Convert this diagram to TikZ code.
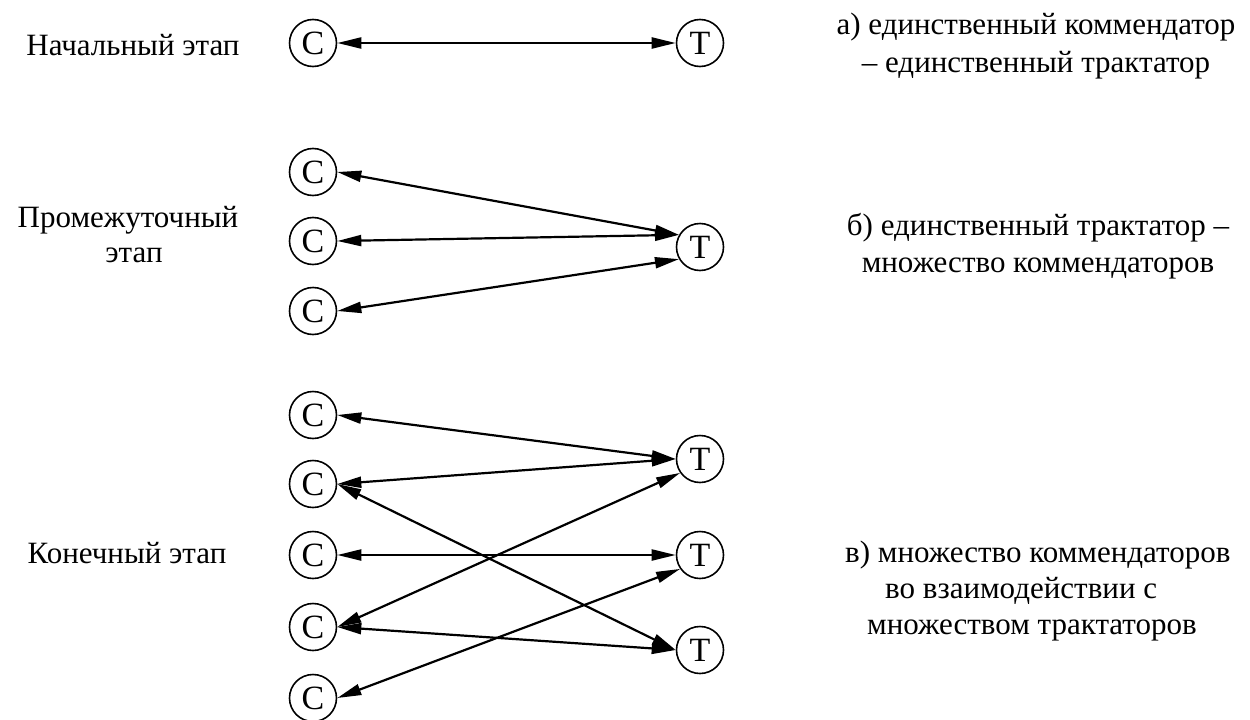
\documentclass[tikz,border=0pt]{standalone}
\usepackage{fontspec}
\setmainfont{Liberation Serif}
\usetikzlibrary{arrows.meta}
\begin{document}
\begin{tikzpicture}[x=1pt,y=-1pt,
  vert/.style={circle,draw,line width=1.6pt,minimum size=47pt,inner sep=0pt,font=\fontsize{34}{36}\selectfont},
  link/.style={{Triangle[length=24pt,width=11pt]}-{Triangle[length=24pt,width=11pt]},line width=2.2pt},
  lbl/.style={font=\fontsize{31}{36}\selectfont,inner sep=0pt}]
\useasboundingbox (0,0) rectangle (1250,720);
% top
\node[vert] (c0) at (313,43) {C};
\node[vert] (t0) at (700,43) {T};
\draw[link] (c0.east) -- (t0.west);
% middle
\node[vert] (m1) at (313,172) {C};
\node[vert] (m2) at (313,241) {C};
\node[vert] (m3) at (313,311) {C};
\node[vert] (mt) at (700,247) {T};
\draw[link] (m1.east) -- (mt.150);
\draw[link] (m2.east) -- (mt.150);
\draw[link] (m3.east) -- (mt.210);
% bottom
\node[vert] (b1) at (313,415) {C};
\node[vert] (b2) at (313,484) {C};
\node[vert] (b3) at (313,555) {C};
\node[vert] (b4) at (313,627) {C};
\node[vert] (b5) at (313,698) {C};
\node[vert] (u1) at (700,459) {T};
\node[vert] (u2) at (700,555) {T};
\node[vert] (u3) at (700,650) {T};
\draw[link] (b1.east) -- (u1.west);
\draw[link] (b2.east) -- (u1.west);
\draw[link] (b2.east) -- (u3.west);
\draw[link] (b3.east) -- (u2.west);
\draw[link] (b4.east) -- (u1.215);
\draw[link] (b4.east) -- (u3.west);
\draw[link] (b5.east) -- (u2.215);
% left labels
\node[lbl,anchor=base] (l1) at (133,55) {Начальный этап};
\node[lbl,anchor=base,align=center] (l2) at (128,262) {Промежуточный\\[-1pt]\hspace*{12pt}этап};
\node[lbl,anchor=base] (l3) at (127,563) {Конечный этап};
% right labels
\node[lbl,anchor=base,align=center] (r1) at (1036,72) {а) единственный коммендатор\\[2pt]– единственный трактатор};
\node[lbl,anchor=base,align=center] (r2) at (1038,272) {б) единственный трактатор –\\[1pt]множество коммендаторов};
\node[lbl,anchor=base west,align=left] (r3) at (845,634) {в) множество коммендаторов\\\hspace*{40pt}во взаимодействии с\\\hspace*{22pt}множеством трактаторов};
\end{tikzpicture}
\end{document}
